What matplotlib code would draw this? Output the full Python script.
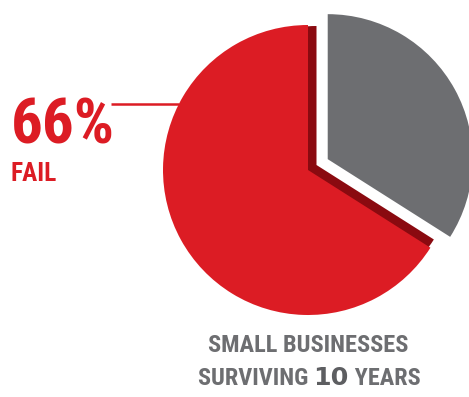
import numpy as np
import matplotlib
matplotlib.use("Agg")
import matplotlib.pyplot as plt
from matplotlib import font_manager
from matplotlib.font_manager import FontProperties

# data
shares = [66, 34]
labels = ["FAIL", "SURVIVE"]
big_label = "66%"
caption_1 = "SMALL BUSINESSES"
caption_2 = ["SURVIVING ", "10", " YEARS"]

red = "#dc1c24"
dark_red = "#8a0a10"
grey = "#6d6e71"


def weight_num(w):
    if isinstance(w, str):
        return {"bold": 700, "heavy": 800, "black": 900, "semibold": 600,
                "demibold": 600, "medium": 500}.get(w.lower(), 400)
    return w


# look for a condensed bold face, the reference uses a DIN-like condensed type
cond = None
for fam in ["Roboto Condensed", "DejaVu Sans", "Noto Sans", "Open Sans",
            "Liberation Sans Narrow", "Roboto", "Lato", "Inter"]:
    for f in font_manager.fontManager.ttflist:
        if (f.name == fam and "condensed" in str(f.stretch).lower()
                and weight_num(f.weight) >= 600 and f.style == "normal"):
            cond = f.fname
            break
    if cond:
        break
if cond:
    fp = FontProperties(fname=cond)
else:
    fp = FontProperties(family="Roboto", weight="bold")

W, H = 469, 397
fig = plt.figure(figsize=(W / 100, H / 100), dpi=100)
ax = fig.add_axes([0, 0, 1, 1])

cx, cy, r = 308, H - 170, 145

# 3d side of the red slice: a shifted, slightly smaller copy behind it
ax.pie(shares, colors=[dark_red, "none"], startangle=90, radius=r - 6,
       center=(cx + 8.5, cy + 5), wedgeprops=dict(linewidth=0))

ax.pie(shares, colors=[red, grey], startangle=90, radius=r, center=(cx, cy),
       explode=[0, 22.5], wedgeprops=dict(linewidth=0))

ax.set_xlim(0, W)
ax.set_ylim(0, H)
ax.set_aspect("auto")
ax.axis("off")

renderer = fig.canvas.get_renderer()


def fit(texts, width, size):
    for t in texts:
        t.set_fontsize(size * t.get_fontsize())
    w = sum(t.get_window_extent(renderer).width for t in texts)
    if w > width:
        for t in texts:
            t.set_fontsize(t.get_fontsize() * width / w)


big = ax.text(11, H - 143, big_label, color=red, fontproperties=fp,
              va="baseline", ha="left")
fit([big], 104, 47)
fail = ax.text(11, H - 181, labels[0], color=red, fontproperties=fp,
               va="baseline", ha="left")
fit([fail], 46, 23)

# leader line from the label to the pie edge
ly = H - 104
x0 = big.get_window_extent(renderer).x1 - 4
ax.plot([x0, cx - np.sqrt(r**2 - (ly - cy)**2)], [ly, ly], color=red, lw=1.8,
        solid_capstyle="butt")

cap1 = ax.text(308, H - 352, caption_1, color=grey, fontproperties=fp,
               va="baseline", ha="center")
fit([cap1], 201, 19)

t1 = ax.text(198, H - 385, caption_2[0], color=grey, fontproperties=fp,
             va="baseline", ha="left")
t2 = ax.annotate(caption_2[1], xy=(1, 0), xycoords=t1, color="#5d5e61",
                 family="DejaVu Sans", fontweight="bold",
                 va="bottom", ha="left")
t3 = ax.annotate(caption_2[2], xy=(1, 0), xycoords=t2, color=grey,
                 fontproperties=fp, va="bottom", ha="left")
for t in (t1, t3):
    t.set_fontsize(1)
t2.set_fontsize(1.05)
fit([t1, t2, t3], 223, 19)
tw = sum(t.get_window_extent(renderer).width for t in (t1, t2, t3))
t1.set_x(309 - tw / 2)

fig.savefig("out.png", dpi=100)
